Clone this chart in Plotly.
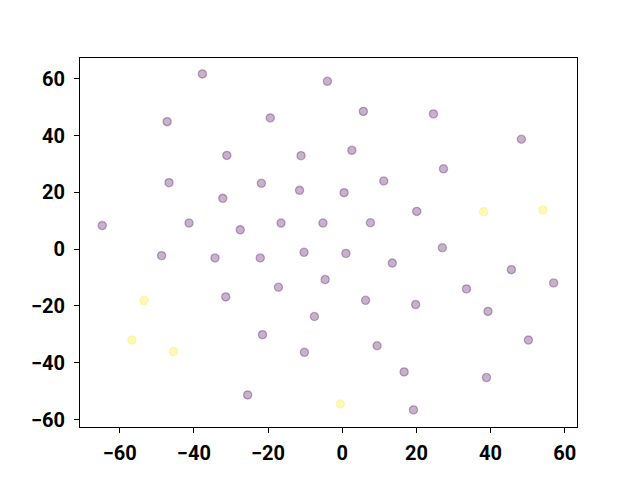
import plotly.graph_objects as go

# Point coordinates
x_vals = [
    -37.7, -4.0, -47.2, -19.4, -31.1, -11.1, -46.7, -21.8, -11.5, -32.2,
    -64.7, -41.3, -27.5, -16.5, -5.2,
    -48.7, -34.3, -22.1, -10.3, -4.6, -17.2, -31.4, -7.5, -21.5, -10.2, -25.5,
    5.7, 24.6, 48.3, 2.6, 27.3, 11.2, 0.5, 20.1, 7.6, 1.0, 27.0,
    13.5, 45.6, 57.0, 33.5, 6.3, 19.8, 39.3, 50.2, 9.4, 16.7, 38.9, 19.2,
    -53.4, -56.7, -45.5, 38.1, 54.1, -0.5,
]
y_vals = [
    61.7, 59.1, 44.9, 46.2, 33.0, 32.9, 23.4, 23.2, 20.7, 17.9,
    8.3, 9.2, 6.8, 9.2, 9.2,
    -2.3, -3.1, -3.1, -1.1, -10.7, -13.4, -16.8, -23.7, -30.1, -36.3, -51.3,
    48.5, 47.6, 38.7, 34.8, 28.3, 24.0, 19.9, 13.3, 9.3, -1.5, 0.5,
    -4.9, -7.2, -11.9, -14.0, -18.0, -19.5, -21.9, -32.0, -34.0, -43.2, -45.2, -56.6,
    -18.1, -32.0, -36.1, 13.2, 13.8, -54.5,
]
labels = [0] * 49 + [1] * 6

x_ticks = [-60, -40, -20, 0, 20, 40, 60]
y_ticks = [-60, -40, -20, 0, 20, 40, 60]

class_rgba = {0: "rgba(68,1,84,0.3)", 1: "rgba(253,231,37,0.3)"}
colors = [class_rgba[c] for c in labels]

fig = go.Figure(
    go.Scatter(
        x=x_vals,
        y=y_vals,
        mode="markers",
        marker=dict(size=8.2, color=colors, line=dict(color=colors, width=1.3)),
        hoverinfo="x+y",
    )
)

axis_common = dict(
    showgrid=False,
    zeroline=False,
    showline=True,
    linecolor="black",
    linewidth=1,
    mirror=True,
    ticks="outside",
    ticklen=5,
    tickwidth=1,
    tickcolor="black",
    tickfont=dict(family="Roboto", size=20, color="black", weight="bold"),
)

fig.update_xaxes(range=[-70.7, 63.3], tickvals=x_ticks, ticklabelstandoff=3, **axis_common)
fig.update_yaxes(range=[-62.6, 67.3], tickvals=y_ticks, ticklabelstandoff=5, **axis_common)

# page body adds an 8px offset, margins compensate for it
fig.update_layout(
    width=632,
    height=472,
    margin=dict(l=72, r=63, t=50, b=53, autoexpand=False),
    paper_bgcolor="white",
    plot_bgcolor="white",
    showlegend=False,
)

fig.write_html("out.html")
